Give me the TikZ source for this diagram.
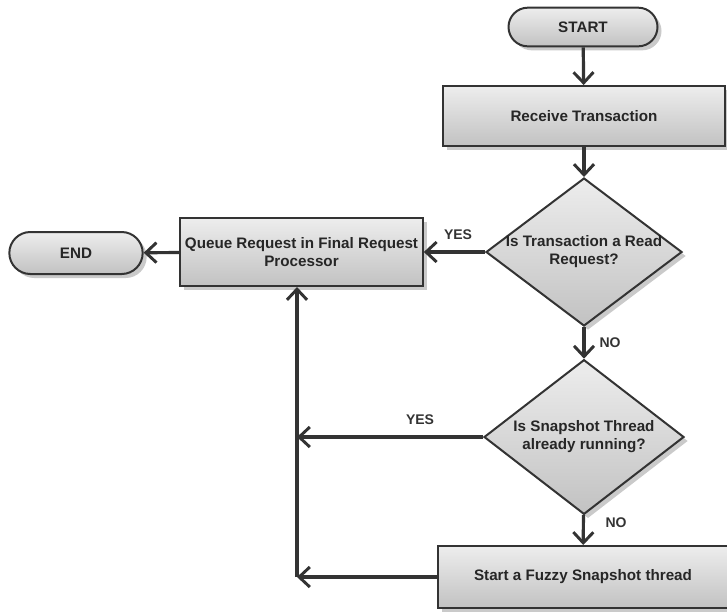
\documentclass[tikz,border=0pt]{standalone}
\usepackage{fontspec}
\setmainfont{Liberation Sans}
\usetikzlibrary{shapes.geometric,shapes.misc,arrows.meta,shadows}
\definecolor{edge}{HTML}{333333}
\tikzset{
  px/.style={x=0.75pt,y=-0.75pt},
  boxshade/.style={top color=white!93!black, bottom color=white!76!black, draw=edge, line width=1.5pt,
    drop shadow={shadow xshift=3pt, shadow yshift=-3pt, opacity=0.35, fill=black!60}},
  txt/.style={font=\bfseries\fontsize{11.4}{13.5}\selectfont, text=black!85},
  procbox/.style={boxshade, rectangle, inner sep=0pt, align=center, txt},
  termbox/.style={boxshade, rounded rectangle, inner sep=0pt, txt},
  decbox/.style={boxshade, diamond, inner sep=0pt},
  dectext/.style={align=center, inner sep=0pt, txt},
  arr/.style={draw=edge, line width=2.4pt, -{Straight Barb[length=8pt,width=15pt,line width=2.2pt]}},
  lbl/.style={font=\bfseries\fontsize{10.5}{12}\selectfont, text=edge}
}
\begin{document}
\begin{tikzpicture}[px]
\useasboundingbox (0,0) rectangle (727,612);
\node[termbox, minimum width=111.75pt, minimum height=29pt] (start) at (583,27) {START};
\node[procbox, minimum width=211pt, minimum height=45pt] (recv) at (584,116) {Receive Transaction};
\node[decbox, minimum width=147pt, minimum height=111pt] (d1) at (584,252) {};
\node[dectext] (d1t) at (d1.center) {Is Transaction a Read\\Request?};
\node[procbox, minimum width=182pt, minimum height=51pt] (queue) at (301.5,252) {Queue Request in Final Request\\Processor};
\node[termbox, minimum width=100pt, minimum height=31.5pt] (endn) at (76,253) {END};
\node[decbox, minimum width=150pt, minimum height=116pt] (d2) at (584,437) {};
\node[dectext] (d2t) at (d2.center) {Is Snapshot Thread\\already running?};
\node[procbox, minimum width=217pt, minimum height=46.5pt] (fuzzy) at (583,577) {Start a Fuzzy Snapshot thread};
\coordinate (j1) at (297,437);
\coordinate (j2) at (297,577);
\draw[arr] (start) -- (recv);
\draw[arr] (recv) -- (d1);
\draw[arr] (d1) -- (queue);
\draw[arr] (queue) -- (endn);
\draw[arr] (d1) -- (d2);
\draw[arr] (d2) -- (fuzzy);
\draw[arr] (d2.west) -- (j1);
\draw[arr] (fuzzy.west) -- (j2);
\draw[arr] (j2) -- (queue.south -| j2);
\node[lbl] (yes1) at (458,235) {YES};
\node[lbl] (no1) at (610,343) {NO};
\node[lbl] (yes2) at (420,420) {YES};
\node[lbl] (no2) at (616,523) {NO};
\end{tikzpicture}
\end{document}
